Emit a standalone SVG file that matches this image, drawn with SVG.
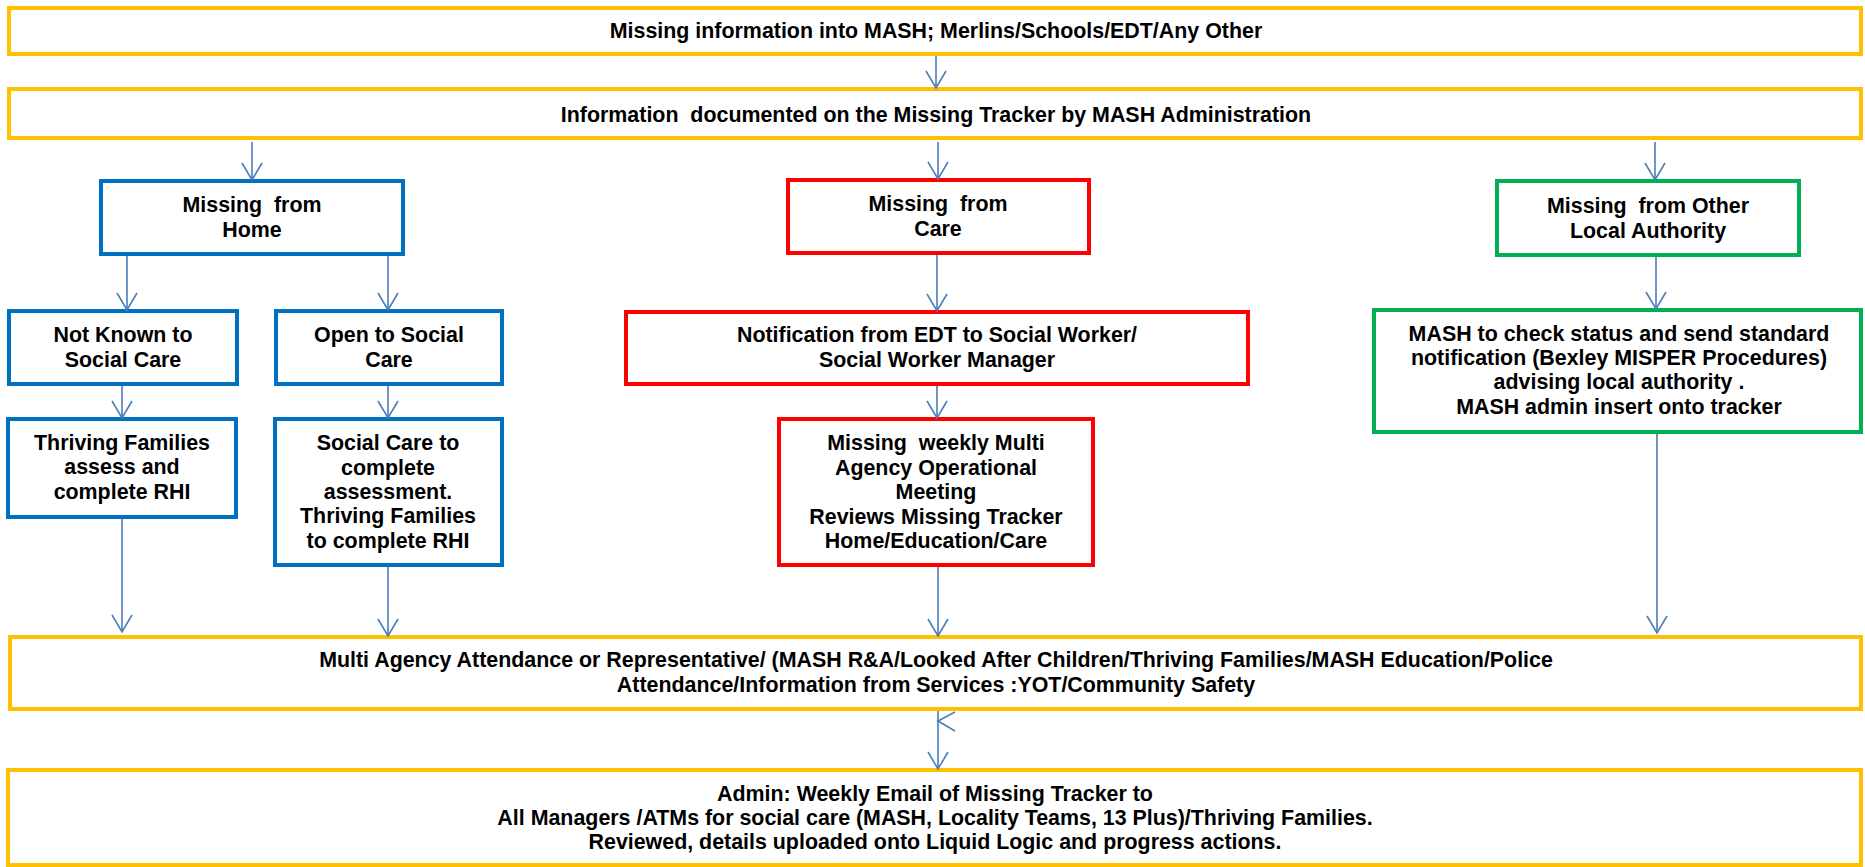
<svg xmlns="http://www.w3.org/2000/svg" width="1865" height="867" viewBox="0 0 1865 867">
<style>
.box{fill:#fff;stroke-width:4}
.o{stroke:#FFC000}
.b{stroke:#0070C0}
.r{stroke:#FF0000}
.g{stroke:#00B050}
text{font-family:"Liberation Sans",Arial,sans-serif;font-weight:bold;font-size:21.4px;fill:#000;text-anchor:middle;white-space:pre}
.c line{stroke:#4A7EBB;stroke-width:1.6;fill:none}
.c polyline{stroke:#4A7EBB;stroke-width:1.6;fill:none}
</style>
<defs>
<marker id="ah" markerUnits="userSpaceOnUse" markerWidth="22" markerHeight="24" refX="17" refY="10" orient="auto" overflow="visible">
<path d="M0,0 L17,10 L0,20" fill="none" stroke="#4A7EBB" stroke-width="1.6"/>
</marker>
</defs>
<rect width="1865" height="867" fill="#fff"/>
<g id="n1"><rect class="box o" x="9" y="8" width="1852" height="46"/><text x="936" y="38">Missing information into MASH; Merlins/Schools/EDT/Any Other</text></g>
<g id="n2"><rect class="box o" x="9" y="89" width="1852" height="49"/><text x="936" y="122">Information  documented on the Missing Tracker by MASH Administration</text></g>
<g id="home"><rect class="box b" x="101" y="181" width="302" height="73"/><text x="252" y="212">Missing  from</text><text x="252" y="237">Home</text></g>
<g id="notknown"><rect class="box b" x="9" y="311" width="228" height="73"/><text x="123" y="342">Not Known to</text><text x="123" y="367">Social Care</text></g>
<g id="open"><rect class="box b" x="276" y="311" width="226" height="73"/><text x="389" y="342">Open to Social</text><text x="389" y="367">Care</text></g>
<g id="thriving"><rect class="box b" x="8" y="419" width="228" height="98"/><text x="122" y="450">Thriving Families</text><text x="122" y="474">assess and</text><text x="122" y="499">complete RHI</text></g>
<g id="sc"><rect class="box b" x="275" y="419" width="227" height="146"/><text x="388" y="450">Social Care to</text><text x="388" y="475">complete</text><text x="388" y="499">assessment.</text><text x="388" y="523">Thriving Families</text><text x="388" y="548">to complete RHI</text></g>
<g id="care"><rect class="box r" x="788" y="180" width="301" height="73"/><text x="938" y="211">Missing  from</text><text x="938" y="236">Care</text></g>
<g id="notif"><rect class="box r" x="626" y="312" width="622" height="72"/><text x="937" y="342">Notification from EDT to Social Worker/</text><text x="937" y="367">Social Worker Manager</text></g>
<g id="weekly"><rect class="box r" x="779" y="419" width="314" height="146"/><text x="936" y="450">Missing  weekly Multi</text><text x="936" y="475">Agency Operational</text><text x="936" y="499">Meeting</text><text x="936" y="524">Reviews Missing Tracker</text><text x="936" y="548">Home/Education/Care</text></g>
<g id="other"><rect class="box g" x="1497" y="181" width="302" height="74"/><text x="1648" y="213">Missing  from Other</text><text x="1648" y="238">Local Authority</text></g>
<g id="mash"><rect class="box g" x="1374" y="310" width="487" height="122"/><text x="1619" y="341">MASH to check status and send standard</text><text x="1619" y="365">notification (Bexley MISPER Procedures)</text><text x="1619" y="389">advising local authority .</text><text x="1619" y="414">MASH admin insert onto tracker</text></g>
<g id="multi"><rect class="box o" x="10" y="637" width="1851" height="72"/><text x="936" y="667">Multi Agency Attendance or Representative/ (MASH R&amp;A/Looked After Children/Thriving Families/MASH Education/Police</text><text x="936" y="692">Attendance/Information from Services :YOT/Community Safety</text></g>
<g id="admin"><rect class="box o" x="8" y="770" width="1853" height="95"/><text x="935" y="801">Admin: Weekly Email of Missing Tracker to</text><text x="935" y="825">All Managers /ATMs for social care (MASH, Locality Teams, 13 Plus)/Thriving Families.</text><text x="935" y="849">Reviewed, details uploaded onto Liquid Logic and progress actions.</text></g>
<g id="connectors" class="c">
<line x1="936" y1="56" x2="936" y2="88" marker-end="url(#ah)"/>
<line x1="252" y1="142" x2="252" y2="180" marker-end="url(#ah)"/>
<line x1="938" y1="142" x2="938" y2="179" marker-end="url(#ah)"/>
<line x1="1655" y1="142" x2="1655" y2="180" marker-end="url(#ah)"/>
<line x1="127" y1="256" x2="127" y2="310" marker-end="url(#ah)"/>
<line x1="388" y1="256" x2="388" y2="310" marker-end="url(#ah)"/>
<line x1="122" y1="386" x2="122" y2="418" marker-end="url(#ah)"/>
<line x1="388" y1="386" x2="388" y2="418" marker-end="url(#ah)"/>
<line x1="937" y1="255" x2="937" y2="311" marker-end="url(#ah)"/>
<line x1="937" y1="386" x2="937" y2="418" marker-end="url(#ah)"/>
<line x1="1656" y1="257" x2="1656" y2="309" marker-end="url(#ah)"/>
<line x1="122" y1="519" x2="122" y2="632" marker-end="url(#ah)"/>
<line x1="388" y1="567" x2="388" y2="636" marker-end="url(#ah)"/>
<line x1="938" y1="567" x2="938" y2="636" marker-end="url(#ah)"/>
<line x1="1657" y1="434" x2="1657" y2="633" marker-end="url(#ah)"/>
<line x1="938" y1="711" x2="938" y2="769" marker-end="url(#ah)"/>
<polyline points="955,712 938,721 955,731"/>
</g>
</svg>
